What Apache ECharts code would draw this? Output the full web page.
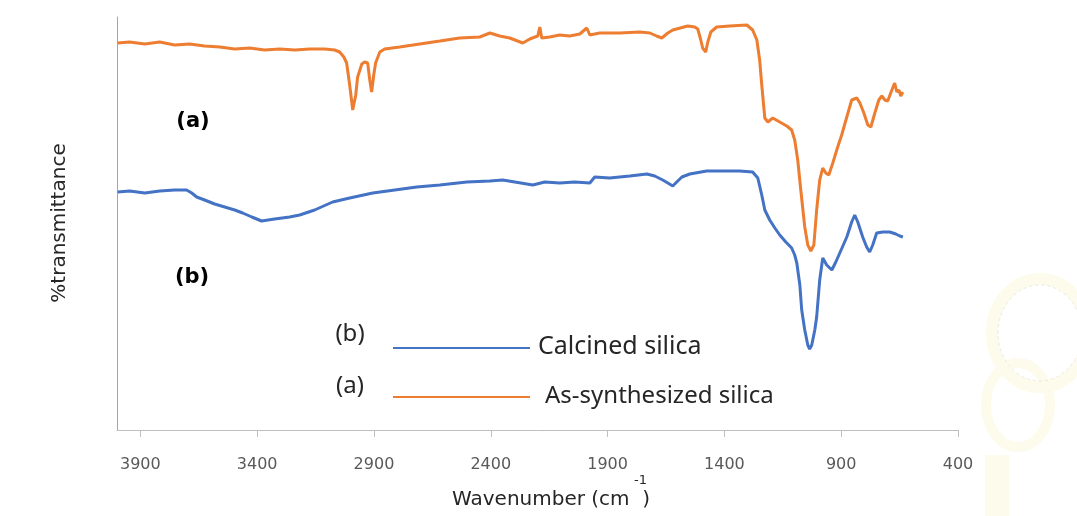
<!DOCTYPE html>
<html>
<head>
<meta charset="utf-8">
<script src="https://cdn.jsdelivr.net/npm/echarts@6/dist/echarts.min.js"></script>
<style>
html,body{margin:0;padding:0;background:#fff;}
#c{width:1077px;height:516px;}
</style>
</head>
<body>
<div id="c"></div>
<script>
// Wavenumber (cm-1) and transmittance (arbitrary units, offset traces)
var asSynWn = [3997,3946,3881,3817,3753,3689,3625,3560,3496,3432,3368,3303,3239,3175,3111,3068,3047,3029,3017,3004,2991,2978,2970,2952,2940,2927,2918,2910,2901,2893,2875,2854,2790,2704,2618,2533,2447,2404,2362,2319,2263,2233,2199,2190,2182,2148,2105,2062,2019,1989,1976,1934,1848,1762,1719,1690,1668,1642,1621,1557,1527,1514,1501,1493,1480,1471,1458,1433,1377,1304,1279,1261,1249,1240,1227,1214,1193,1163,1133,1112,1099,1086,1073,1056,1043,1030,1017,1005,992,979,966,953,936,915,898,876,855,833,820,803,786,773,756,739,726,713,701,683,671,662,653,645,636];
var asSynT = [387,388,386,388,385,386,384,383,381,382,380,381,380,381,381,380,378,373,367,345,320,335,353,366,368,367,350,338,355,367,378,381,383,386,389,392,393,397,394,392,387,391,394,403,392,393,395,394,396,402,395,397,397,398,397,394,392,397,400,404,403,401,390,382,378,388,398,403,404,405,400,390,370,345,312,308,312,308,304,300,290,270,240,203,185,179,185,220,250,262,257,255,267,283,295,313,330,332,327,317,305,303,317,330,334,330,329,340,347,338,340,334,338];

var calcWn = [3997,3946,3881,3817,3753,3702,3680,3659,3625,3582,3539,3496,3462,3423,3381,3325,3261,3218,3154,3077,3004,2905,2811,2717,2618,2503,2404,2349,2297,2220,2169,2105,2041,1976,1955,1891,1805,1732,1698,1664,1642,1621,1604,1582,1548,1476,1398,1334,1279,1257,1240,1227,1206,1184,1163,1137,1112,1099,1090,1077,1069,1056,1043,1035,1026,1013,1005,992,979,962,940,923,906,876,855,842,829,808,791,778,765,748,722,692,666,649,636];
var calcT = [238,239,237,239,240,240,237,233,230,226,223,220,217,213,209,211,213,215,220,228,232,237,240,243,245,248,249,250,248,245,248,247,248,247,253,252,254,256,254,250,247,244,248,253,256,259,259,259,258,252,235,220,210,202,195,188,182,175,167,145,120,100,85,81,85,100,113,150,172,165,160,168,177,193,208,215,208,193,183,178,185,197,198,198,196,194,193];

var xTicks = [3900,3400,2900,2400,1900,1400,900,400];

function pairs(xs, ys){ var o=[]; for(var i=0;i<xs.length;i++){o.push([xs[i],ys[i]]);} return o; }

var chart = echarts.init(document.getElementById('c'), null, {renderer:'canvas'});
var FONT = 'DejaVu Sans';
var WM = '#fdfbeb', WMS = '#ecebe2';
chart.setOption({
  backgroundColor:'#ffffff',
  animation:false,
  grid:{left:117, top:17, width:841, height:413},
  xAxis:{
    type:'value', inverse:true, min:400, max:4000, interval:500,
    axisLine:{show:true, lineStyle:{color:'#bfbfbf', width:1}},
    axisTick:{show:true, length:7, lineStyle:{color:'#bfbfbf'}, customValues:xTicks},
    axisLabel:{color:'#595959', fontSize:16, fontFamily:FONT, margin:27, customValues:xTicks,
      formatter:function(v){return String(v);}},
    splitLine:{show:false}
  },
  yAxis:{
    type:'value', min:0, max:413,
    axisLine:{show:true, lineStyle:{color:'#a6a6a6', width:1}},
    axisTick:{show:false}, axisLabel:{show:false}, splitLine:{show:false}
  },
  series:[
    {name:'As-synthesized silica', type:'line', data:pairs(asSynWn, asSynT), showSymbol:false, symbol:'none',
     lineStyle:{color:'#ED7D31', width:3}, itemStyle:{color:'#ED7D31'}},
    {name:'Calcined silica', type:'line', data:pairs(calcWn, calcT), showSymbol:false, symbol:'none',
     lineStyle:{color:'#4472C4', width:3}, itemStyle:{color:'#4472C4'}}
  ],
  graphic:[
    // faint watermark pieces (right edge)
    {type:'ellipse', z:-10, shape:{cx:1040, cy:333, rx:48, ry:54}, style:{fill:'none', stroke:WM, lineWidth:12}},
    {type:'ellipse', z:-10, shape:{cx:1018, cy:405, rx:32, ry:42}, style:{fill:'none', stroke:WM, lineWidth:10}},
    {type:'ellipse', z:-9, shape:{cx:1040, cy:333, rx:42, ry:48}, style:{fill:'none', stroke:WMS, lineWidth:1, lineDash:[3,3]}},
    {type:'rect', z:-10, shape:{x:985, y:455, width:24, height:61}, style:{fill:WM}},
    // axis titles
    {type:'text', left:452, top:490, style:{text:'Wavenumber (cm  )', font:'20px "DejaVu Sans"', fill:'#262626'}},
    {type:'text', left:634, top:474, style:{text:'-1', font:'13px "DejaVu Sans"', fill:'#262626'}},
    {type:'text', x:60, y:223, rotation:Math.PI/2, style:{text:'%transmittance', font:'20px "DejaVu Sans"', fill:'#262626', align:'center', verticalAlign:'middle'}},
    // curve labels
    {type:'text', x:193, y:122, style:{text:'(a)', font:'bold 21px "DejaVu Sans"', fill:'#000', align:'center', verticalAlign:'middle'}},
    {type:'text', x:192, y:278, style:{text:'(b)', font:'bold 21px "DejaVu Sans"', fill:'#000', align:'center', verticalAlign:'middle'}},
    // legend
    {type:'text', x:350, y:334, style:{text:'(b)', font:'24px "Noto Sans"', fill:'#262626', align:'center', verticalAlign:'middle'}},
    {type:'text', x:350, y:386, style:{text:'(a)', font:'24px "Noto Sans"', fill:'#262626', align:'center', verticalAlign:'middle'}},
    {type:'line', shape:{x1:393, y1:348, x2:530, y2:348}, style:{stroke:'#4472C4', lineWidth:2}},
    {type:'line', shape:{x1:393, y1:397, x2:530, y2:397}, style:{stroke:'#ED7D31', lineWidth:2}},
    {type:'text', x:538, y:347, style:{text:'Calcined silica', font:'25px "Noto Sans"', fill:'#262626', verticalAlign:'middle'}},
    {type:'text', x:545, y:396, style:{text:'As-synthesized silica', font:'24px "Noto Sans"', fill:'#262626', verticalAlign:'middle'}}
  ]
});
</script>
</body>
</html>
